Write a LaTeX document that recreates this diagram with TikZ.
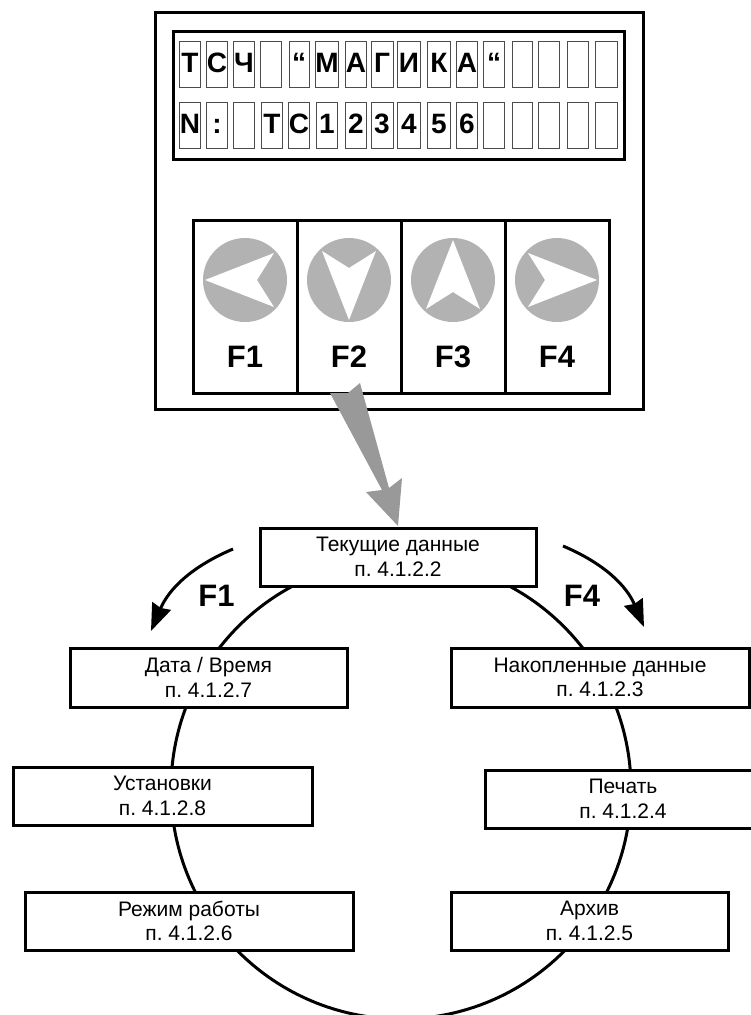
\documentclass[tikz,border=0pt]{standalone}
\usepackage{fontspec}
\setmainfont{Liberation Sans}
\usetikzlibrary{arrows.meta}
\definecolor{keygray}{gray}{0.7}
\definecolor{pointergray}{gray}{0.6}
\frenchspacing
\tikzset{
  menubox/.style={draw, line width=3pt, fill=white, inner sep=0pt, align=center, font=\fontsize{21}{24.5}\selectfont},
  cellbox/.style={draw=black!70, line width=1pt, inner sep=0pt, minimum height=46pt, text height=16pt, text depth=0pt, font=\fontsize{28}{28}\selectfont\bfseries},
  keybox/.style={draw, line width=3pt, inner sep=0pt, minimum width=104pt, minimum height=173pt},
  keylabel/.style={inner sep=0pt, font=\fontsize{31}{31}\selectfont\bfseries},
  turnarrow/.style={line width=3pt, -{Stealth[length=27pt, width=20pt, inset=2pt]}}
}
\begin{document}
\begin{tikzpicture}[x=1pt, y=-1pt]
  \clip (0,0) rectangle (751,1015);
  \fill[white] (0,0) rectangle (751,1015);
  % ring of menu items
  \draw[line width=3pt] (401,789) circle [radius=230pt];
  % housing and display
  \node[draw, line width=3pt, inner sep=0pt, minimum width=488pt, minimum height=397pt] (housing) at (399,210.5) {};
  \node[draw, line width=3pt, inner sep=0pt, minimum width=451pt, minimum height=128pt] (display) at (398.5,95) {};
  % first display row
  \foreach \cx/\cw/\ch [count=\ci] in {190/21/Т, 217/21/С, 244/21/Ч, 271/21/{}, 299/20/“, 327/21/М, 356/21/А, 382/22/Г, 409/23/И, 439/23/К, 467/21/А, 494/21/“, 522/20/{}, 549/21/{}, 578/21/{}, 606/22/{}}
    \node[cellbox, minimum width=\cw pt] (top\ci) at (\cx,64) {\ch};
  % second display row
  \foreach \cx/\cw/\ch [count=\ci] in {190/21/N, 217/21/:, 244/21/{}, 272/21/Т, 299/20/С, 327/21/1, 356/21/2, 382/22/3, 409/23/4, 439/23/5, 467/21/6, 494/21/{}, 522/20/{}, 549/21/{}, 578/21/{}, 606/22/{}}
    \node[cellbox, minimum width=\cw pt] (low\ci) at (\cx,125.5) {\ch};
  % function keys
  \foreach \cx/\ang/\lab [count=\ci] in {245/0/F1, 349/90/F2, 453/-90/F3, 557/180/F4} {
    \node[keybox] (key\ci) at (\cx,306.5) {};
    \fill[keygray] (\cx,280) circle [radius=42pt];
    \fill[white, shift={(\cx,280)}, rotate=\ang] (-40,0) -- (29,-27) -- (12,0) -- (29,27) -- cycle;
    \node[keylabel] (keylab\ci) at (\cx,357) {\lab};
  }
  % menu items
  \node[menubox, minimum width=276pt, minimum height=58pt] (current) at (398,557) {Текущие данные\\п. 4.1.2.2};
  \node[menubox, minimum width=277pt, minimum height=59pt] (datetime) at (208.5,677.5) {Дата / Время\\п. 4.1.2.7};
  \node[menubox, minimum width=298pt, minimum height=59pt] (stored) at (600,677.5) {Накопленные данные\\п. 4.1.2.3};
  \node[menubox, minimum width=299pt, minimum height=58pt] (settings) at (162.5,796) {Установки\\п. 4.1.2.8};
  \node[menubox, minimum width=276pt, minimum height=58pt] (printing) at (623,799) {Печать\\п. 4.1.2.4};
  \node[menubox, minimum width=328pt, minimum height=58pt] (mode) at (189,921) {Режим работы\\п. 4.1.2.6};
  \node[menubox, minimum width=277pt, minimum height=58pt] (archive) at (589.5,921) {Архив\\п. 4.1.2.5};
  % pointer from F2 to the first item
  \coordinate (pointertip) at (398,526);
  \fill[pointergray] (330,393) -- (348,393) -- (360,383) -- (389,488) -- (402,478) -- (pointertip) -- (366,492) -- (382,490) -- cycle;
  % key turns
  \coordinate (leftstart) at (233,549);
  \coordinate (lefttip) at (151,631);
  \coordinate (rightstart) at (563,546);
  \coordinate (righttip) at (644,627);
  \draw[turnarrow] (leftstart) to[bend right=22] (lefttip);
  \draw[turnarrow] (rightstart) to[bend left=22] (righttip);
  \node[keylabel] (turnleft) at (216.5,596) {F1};
  \node[keylabel] (turnright) at (582,596) {F4};
\end{tikzpicture}
\end{document}
